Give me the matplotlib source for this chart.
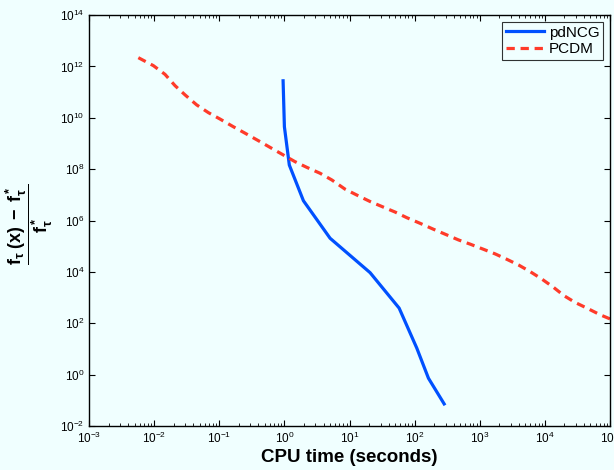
import matplotlib
matplotlib.use("Agg")
import matplotlib.pyplot as plt
from matplotlib.ticker import LogLocator, NullFormatter

plt.rcParams['font.family'] = ['Liberation Sans', 'DejaVu Sans']
plt.rcParams['mathtext.fontset'] = 'custom'
plt.rcParams['mathtext.rm'] = 'Liberation Sans'
plt.rcParams['mathtext.it'] = 'Liberation Sans'
plt.rcParams['mathtext.bf'] = 'Liberation Sans:bold'

# pdNCG data (CPU time, log10 of relative objective error)
pdncg_t = [0.955, 1.0, 1.19, 1.96, 5.03, 20.7, 57.8, 108, 163, 284]
pdncg_log = [11.44, 9.65, 8.16, 6.77, 5.31, 3.97, 2.59, 1.03, -0.14, -1.14]

# PCDM data (log10 of CPU time, log10 of relative objective error)
pcdm_logt = [-2.243, -2.012, -1.833, -1.679, -1.525, -1.346, -1.167, -0.988,
             -0.783, -0.604, -0.373, -0.194, -0.015, 0.164, 0.344, 0.548,
             0.728, 0.932, 1.137, 1.316, 1.521, 1.700, 1.880, 2.085, 2.289,
             2.494, 2.673, 2.853, 3.057, 3.237, 3.416, 3.595, 3.774, 3.954,
             4.132, 4.296, 4.465, 4.645, 4.849, 5.0]
pcdm_log = [12.34, 12.03, 11.69, 11.25, 10.89, 10.50, 10.20, 9.95,
            9.65, 9.40, 9.07, 8.81, 8.55, 8.29, 8.07, 7.84,
            7.58, 7.22, 6.96, 6.74, 6.52, 6.33, 6.11, 5.89, 5.66,
            5.44, 5.245, 5.08, 4.88, 4.70, 4.49, 4.27, 4.01, 3.72,
            3.40, 3.07, 2.81, 2.59, 2.33, 2.17]

pdncg_err = [10 ** v for v in pdncg_log]
pcdm_t = [10 ** v for v in pcdm_logt]
pcdm_err = [10 ** v for v in pcdm_log]

bg = '#F0FFFF'
fig = plt.figure(figsize=(6.14, 4.70), dpi=100, facecolor=bg)
ax = fig.add_axes([0.145, 0.0936, 0.8485, 0.8744], facecolor=bg)

ax.loglog(pdncg_t, pdncg_err, color='#0050FF', lw=2.3, label='pdNCG')
ax.loglog(pcdm_t, pcdm_err, color='#FF3B2A', lw=2.3, ls=(0, (2.6, 1.8)), label='PCDM')

ax.set_xlim(1e-3, 1e5)
ax.set_ylim(1e-2, 1e14)
ax.xaxis.set_major_locator(LogLocator(base=10, numticks=20))
ax.xaxis.set_minor_locator(LogLocator(base=10, subs=range(2, 10), numticks=100))
ax.xaxis.set_minor_formatter(NullFormatter())
ax.set_yticks([10.0 ** k for k in range(-2, 15, 2)])
ax.yaxis.set_minor_locator(plt.NullLocator())

ax.tick_params(which='both', direction='in', top=True, right=True,
               labelsize=8.5, color='black')
ax.tick_params(which='major', length=4, width=0.8)
ax.tick_params(which='minor', length=2.5, width=0.6)
for s in ax.spines.values():
    s.set_linewidth(1.0)

ax.set_xlabel('CPU time (seconds)', fontsize=13.5, fontweight='bold', labelpad=2)
ax.set_ylabel(r'$\mathbf{\dfrac{f_\tau\;(x)\;-\;f^*_\tau}{f^*_\tau}}$', fontsize=13)
ax.yaxis.set_label_coords(-0.065, 0.49)

leg = ax.legend(loc='upper right', fontsize=11, frameon=True, fancybox=False,
                edgecolor='black', facecolor=bg, handlelength=2.5,
                borderaxespad=0.45, borderpad=0.25, labelspacing=0.15,
                handletextpad=0.3)
leg.get_frame().set_linewidth(0.8)

fig.savefig('out.png', dpi=100, facecolor=bg)
